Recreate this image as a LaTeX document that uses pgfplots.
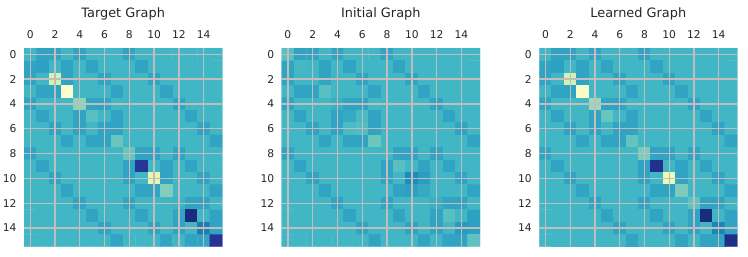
\documentclass[border=0pt]{standalone}
\usepackage{fontspec}
\setmainfont{DejaVu Sans}
\usepackage{pgfplots}
\pgfplotsset{compat=1.18}
\definecolor{txt}{RGB}{38,38,38}
\definecolor{gridc}{RGB}{190,190,190}
\pgfplotsset{
  heat/.style={
    scale only axis, width=198.3pt, height=198.6pt, anchor=south west,
    xmin=-0.5,xmax=15.5,ymin=-0.5,ymax=15.5,
    y dir=reverse, axis x line*=top, axis y line*=left,
    axis line style={draw=none}, major tick length=0pt, tick style={draw=none},
    xtick={0,2,...,14}, ytick={0,2,...,14},
    xmajorgrids, ymajorgrids, grid style={draw=gridc,line width=1.35pt},
    axis on top, clip=true,
    colormap={ygb}{rgb255=(255,255,217) rgb255=(237,248,177) rgb255=(199,233,180) rgb255=(127,205,187) rgb255=(65,182,196) rgb255=(29,145,192) rgb255=(34,94,168) rgb255=(37,52,148) rgb255=(8,29,88)},
    point meta min=0, point meta max=1,
    /pgf/number format/assume math mode=true,
    tick label style={font=\fontsize{10.7}{12}\selectfont, text=txt},
    xticklabel style={anchor=base,yshift=9.5pt},
    yticklabel style={xshift=-4pt},
    title style={font=\fontsize{12.9}{15}\selectfont, text=txt, at={(0.5,1)}, anchor=base, yshift=25pt},
  },
  cells/.style={matrix plot*, mesh/cols=16, point meta=explicit},
  table/cols/.style={row sep=\\, header=false, x expr={\coordindex-16*int((\coordindex+0.5)/16)}, y expr={int((\coordindex+0.5)/16)}, meta index=0},
}
\begin{document}
\begin{tikzpicture}
\path[use as bounding box] (0,0) rectangle (748pt,257pt);
\begin{axis}[heat, at={(24pt,10.3pt)}, title={Target Graph}]
\addplot[cells] table[cols] {
.5\\.56\\.56\\.5\\.56\\.5\\.5\\.5\\.56\\.5\\.5\\.5\\.5\\.5\\.5\\.5\\
.56\\.57\\.5\\.56\\.5\\.56\\.5\\.5\\.5\\.56\\.5\\.5\\.5\\.5\\.5\\.5\\
.56\\.5\\.2\\.56\\.5\\.5\\.56\\.5\\.5\\.5\\.56\\.5\\.5\\.5\\.5\\.5\\
.5\\.56\\.56\\.03\\.5\\.5\\.5\\.56\\.5\\.5\\.5\\.56\\.5\\.5\\.5\\.5\\
.56\\.5\\.5\\.5\\.35\\.56\\.56\\.5\\.5\\.5\\.5\\.5\\.56\\.5\\.5\\.5\\
.5\\.56\\.5\\.5\\.56\\.45\\.5\\.56\\.5\\.5\\.5\\.5\\.5\\.56\\.5\\.5\\
.5\\.5\\.56\\.5\\.56\\.5\\.56\\.56\\.5\\.5\\.5\\.5\\.5\\.5\\.56\\.5\\
.5\\.5\\.5\\.56\\.5\\.56\\.56\\.42\\.5\\.5\\.5\\.5\\.5\\.5\\.5\\.56\\
.56\\.5\\.5\\.5\\.5\\.5\\.5\\.5\\.42\\.56\\.56\\.5\\.56\\.5\\.5\\.5\\
.5\\.56\\.5\\.5\\.5\\.5\\.5\\.5\\.56\\.87\\.5\\.56\\.5\\.56\\.5\\.5\\
.5\\.5\\.56\\.5\\.5\\.5\\.5\\.5\\.56\\.5\\.14\\.56\\.5\\.5\\.56\\.5\\
.5\\.5\\.5\\.56\\.5\\.5\\.5\\.5\\.5\\.56\\.56\\.37\\.5\\.5\\.5\\.56\\
.5\\.5\\.5\\.5\\.56\\.5\\.5\\.5\\.56\\.5\\.5\\.5\\.51\\.56\\.56\\.5\\
.5\\.5\\.5\\.5\\.5\\.56\\.5\\.5\\.5\\.56\\.5\\.5\\.56\\.92\\.5\\.56\\
.5\\.5\\.5\\.5\\.5\\.5\\.56\\.5\\.5\\.5\\.56\\.5\\.56\\.5\\.68\\.56\\
.5\\.5\\.5\\.5\\.5\\.5\\.5\\.56\\.5\\.5\\.5\\.56\\.5\\.56\\.56\\.875\\
};
\end{axis}
\begin{axis}[heat, at={(281.7pt,10.3pt)}, title={Initial Graph}]
\addplot[cells] table[cols] {
.45\\.56\\.56\\.5\\.56\\.5\\.5\\.5\\.56\\.5\\.5\\.5\\.5\\.5\\.5\\.5\\
.56\\.49\\.5\\.56\\.5\\.56\\.5\\.5\\.5\\.56\\.5\\.5\\.5\\.5\\.5\\.5\\
.56\\.5\\.5\\.56\\.5\\.5\\.56\\.5\\.5\\.5\\.56\\.5\\.5\\.5\\.5\\.5\\
.5\\.56\\.56\\.45\\.5\\.5\\.5\\.56\\.5\\.5\\.5\\.56\\.5\\.5\\.5\\.5\\
.56\\.5\\.5\\.5\\.52\\.56\\.56\\.5\\.5\\.5\\.5\\.5\\.56\\.5\\.5\\.5\\
.5\\.56\\.5\\.5\\.56\\.54\\.48\\.56\\.5\\.5\\.5\\.5\\.5\\.56\\.5\\.5\\
.5\\.5\\.56\\.5\\.56\\.48\\.46\\.56\\.5\\.5\\.5\\.5\\.5\\.5\\.56\\.5\\
.5\\.5\\.5\\.56\\.5\\.56\\.56\\.41\\.5\\.5\\.5\\.5\\.5\\.5\\.5\\.56\\
.56\\.5\\.5\\.5\\.5\\.5\\.5\\.5\\.5\\.56\\.56\\.5\\.56\\.5\\.5\\.5\\
.5\\.56\\.5\\.5\\.5\\.5\\.5\\.5\\.56\\.45\\.5\\.56\\.5\\.56\\.5\\.5\\
.5\\.5\\.56\\.5\\.5\\.5\\.5\\.5\\.56\\.5\\.64\\.58\\.5\\.5\\.56\\.5\\
.5\\.5\\.5\\.56\\.5\\.5\\.5\\.5\\.5\\.56\\.57\\.54\\.5\\.5\\.5\\.56\\
.5\\.5\\.5\\.5\\.56\\.5\\.5\\.5\\.56\\.5\\.5\\.5\\.52\\.56\\.56\\.5\\
.5\\.5\\.5\\.5\\.5\\.56\\.5\\.5\\.5\\.56\\.5\\.5\\.56\\.45\\.5\\.57\\
.5\\.5\\.5\\.5\\.5\\.5\\.56\\.5\\.5\\.5\\.56\\.5\\.56\\.5\\.59\\.57\\
.5\\.5\\.5\\.5\\.5\\.5\\.5\\.56\\.5\\.5\\.5\\.56\\.5\\.56\\.56\\.44\\
};
\end{axis}
\begin{axis}[heat, at={(539.3pt,10.3pt)}, width=198pt, title={Learned Graph}]
\addplot[cells] table[cols] {
.5\\.56\\.56\\.5\\.56\\.5\\.5\\.5\\.56\\.5\\.5\\.5\\.5\\.5\\.5\\.5\\
.56\\.57\\.5\\.56\\.5\\.56\\.5\\.5\\.5\\.56\\.5\\.5\\.5\\.5\\.5\\.5\\
.56\\.5\\.2\\.56\\.5\\.5\\.56\\.5\\.5\\.5\\.56\\.5\\.5\\.5\\.5\\.5\\
.5\\.56\\.56\\.05\\.5\\.5\\.5\\.56\\.5\\.5\\.5\\.56\\.5\\.5\\.5\\.5\\
.56\\.5\\.5\\.5\\.32\\.56\\.56\\.5\\.5\\.5\\.5\\.5\\.56\\.5\\.5\\.5\\
.5\\.56\\.5\\.5\\.56\\.42\\.5\\.56\\.5\\.5\\.5\\.5\\.5\\.56\\.5\\.5\\
.5\\.5\\.56\\.5\\.56\\.5\\.56\\.56\\.5\\.5\\.5\\.5\\.5\\.5\\.56\\.5\\
.5\\.5\\.5\\.56\\.5\\.56\\.56\\.43\\.5\\.5\\.5\\.5\\.5\\.5\\.5\\.56\\
.56\\.5\\.5\\.5\\.5\\.5\\.5\\.5\\.38\\.56\\.56\\.5\\.56\\.5\\.5\\.5\\
.5\\.56\\.5\\.5\\.5\\.5\\.5\\.5\\.56\\.89\\.5\\.56\\.5\\.56\\.5\\.5\\
.5\\.5\\.56\\.5\\.5\\.5\\.5\\.5\\.56\\.5\\.1\\.56\\.5\\.5\\.56\\.5\\
.5\\.5\\.5\\.56\\.5\\.5\\.5\\.5\\.5\\.56\\.56\\.38\\.5\\.5\\.5\\.56\\
.5\\.5\\.5\\.5\\.56\\.5\\.5\\.5\\.56\\.5\\.5\\.5\\.44\\.56\\.56\\.5\\
.5\\.5\\.5\\.5\\.5\\.56\\.5\\.5\\.5\\.56\\.5\\.5\\.56\\.92\\.5\\.56\\
.5\\.5\\.5\\.5\\.5\\.5\\.56\\.5\\.5\\.5\\.56\\.5\\.56\\.5\\.66\\.56\\
.5\\.5\\.5\\.5\\.5\\.5\\.5\\.56\\.5\\.5\\.5\\.56\\.5\\.56\\.56\\.9\\
};
\end{axis}
\end{tikzpicture}
\end{document}
